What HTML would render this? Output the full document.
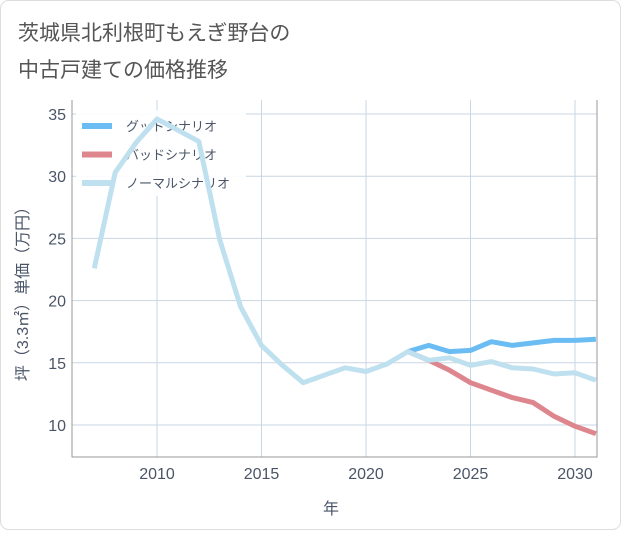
<!DOCTYPE html>
<html><head><meta charset="utf-8"><style>
body{margin:0;background:#fff;}
svg text{font-family:"Liberation Sans","Noto Sans CJK JP",sans-serif;}
</style></head><body>
<svg id="chart" width="621" height="530" viewBox="0 0 621 530">
<rect x="0.5" y="0.5" width="620" height="529" rx="8" fill="#fff" stroke="#ddd"/>
<text x="18" y="40" font-size="21" fill="#555">茨城県北利根町もえぎ野台の</text>
<text x="18" y="77" font-size="21" fill="#555">中古戸建ての価格推移</text>
<g id="grid"></g>
<g id="legend"></g>
<g id="series"></g>
<text x="331" y="514" font-size="16" fill="#4a5568" text-anchor="middle">年</text>
<text transform="translate(28,290) rotate(-90)" font-size="16" fill="#4a5568" text-anchor="middle">坪（3.3㎡）単価（万円）</text>
</svg>
<script>
const years=[2007,2008,2009,2010,2011,2012,2013,2014,2015,2016,2017,2018,2019,2020,2021,2022,2023,2024,2025,2026,2027,2028,2029,2030,2031];
const normal=[22.6,30.3,32.7,34.6,33.7,32.8,24.9,19.5,16.4,14.8,13.4,14.0,14.6,14.3,14.9,15.9,15.2,15.4,14.8,15.1,14.6,14.5,14.1,14.2,13.6];
const goodYears=[2022,2023,2024,2025,2026,2027,2028,2029,2030,2031];
const good=[15.9,16.4,15.9,16.0,16.7,16.4,16.6,16.8,16.8,16.9];
const bad=[15.9,15.2,14.4,13.4,12.8,12.2,11.8,10.7,9.9,9.3];
const xTicks=[2010,2015,2020,2025,2030];
const yTicks=[10,15,20,25,30,35];
const L=72,R=597,T=100,B=457;
const x=v=>157+(v-2010)*20.9;
const y=v=>425-(v-10)*12.44;
const NS="http://www.w3.org/2000/svg";
function mk(tag,attrs,parent){const e=document.createElementNS(NS,tag);for(const k in attrs)e.setAttribute(k,attrs[k]);parent.appendChild(e);return e;}
const grid=document.getElementById('grid');
xTicks.forEach(t=>{
 const l=mk('line',{x1:x(t),x2:x(t),y1:T,y2:B,stroke:'#c9d6e3','stroke-width':1},grid);
 
 
 const tx=mk('text',{x:x(t),y:B+22,'font-size':16,fill:'#4a5568','text-anchor':'middle'},grid);
 tx.textContent=t;
 
 
});
yTicks.forEach(t=>{
 const l=mk('line',{x1:L,x2:R,y1:y(t),y2:y(t),stroke:'#c9d6e3','stroke-width':1},grid);
 
 
 const tx=mk('text',{x:L-6,y:y(t)+6,'font-size':16,fill:'#4a5568','text-anchor':'end'},grid);
 tx.textContent=t;
 
 
});
const ax=mk('path',{d:`M${L},${T} L${L},${B} L${R},${B} L${R},${T}`,fill:'none',stroke:'#999','stroke-width':1},grid);


const sg=document.getElementById('series');
function line(xs,vals,color,name){
 const d=vals.map((v,i)=>(i?'L':'M')+x(xs[i]).toFixed(1)+','+y(v).toFixed(1)).join(' ');
 const p=mk('path',{d:d,fill:'none',stroke:color,'stroke-width':5,'stroke-linejoin':'round'},sg);
 
 
}
line(goodYears,good,'#6bbcf3','good-scenario-line');
line(goodYears,bad,'#de868e','bad-scenario-line');
line(years,normal,'#bfe0ee','normal-scenario-line');
const lg=document.getElementById('legend');
const bg=mk('rect',{x:76,y:110,width:170,height:86,fill:'#fff',opacity:0.9},lg);


[['グッドシナリオ','#6bbcf3'],['バッドシナリオ','#de868e'],['ノーマルシナリオ','#bfe0ee']].forEach((it,i)=>{
 const yy=126+i*28.5;
 const g=mk('g',{},lg);
 
 
 mk('line',{x1:82,x2:112,y1:yy,y2:yy,stroke:it[1],'stroke-width':6},g);
 const t=mk('text',{x:126,y:yy+5,'font-size':13,fill:'#4a5568'},g);
 t.textContent=it[0];
});
</script>
</body></html>
